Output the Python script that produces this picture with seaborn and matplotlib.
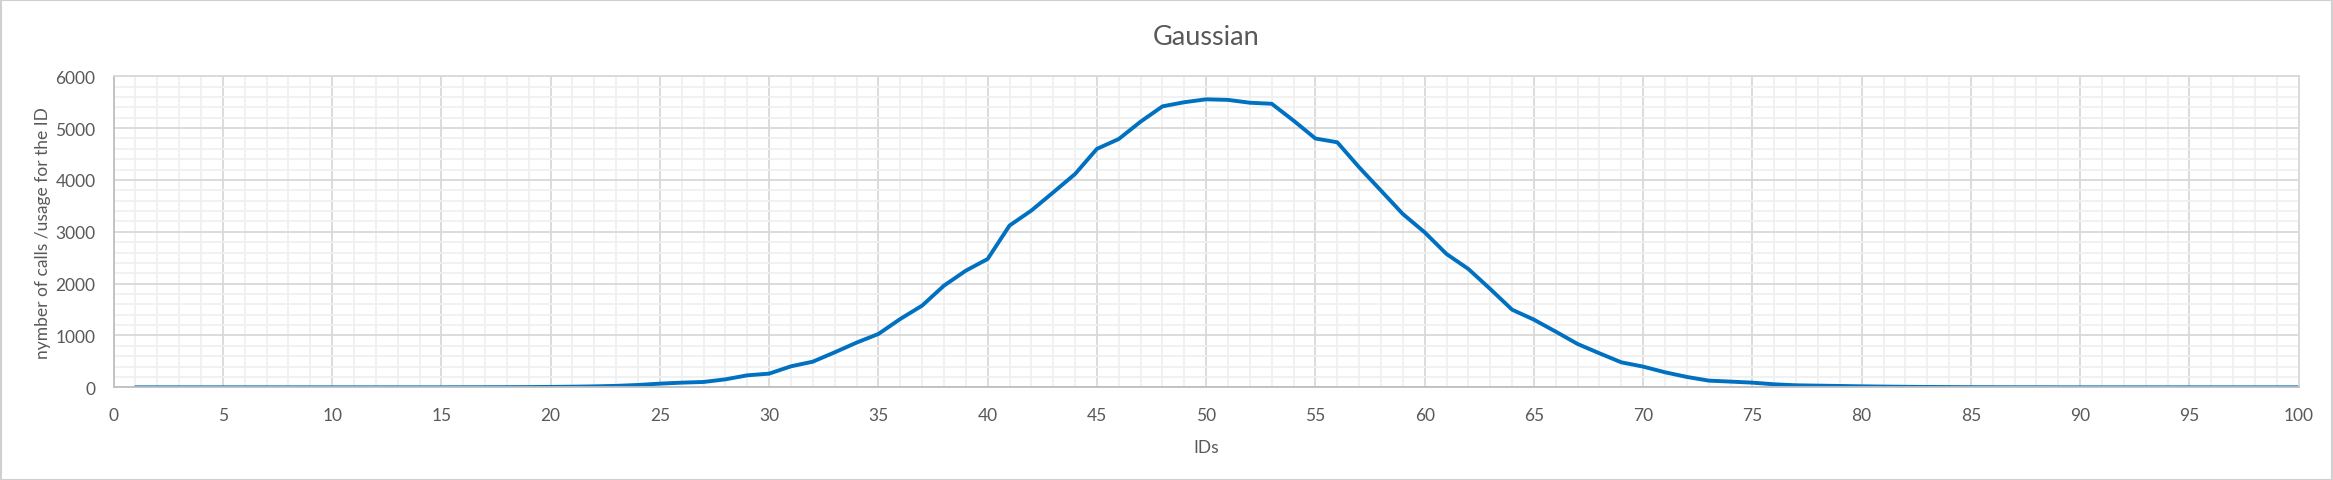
import numpy as np
import pandas as pd
import matplotlib
matplotlib.use('Agg')
import matplotlib.pyplot as plt
from matplotlib.ticker import MultipleLocator
from matplotlib.patches import Rectangle
import seaborn as sns

# usage count per ID
ids = list(range(1, 101))
calls = [
    0, 0, 0, 0, 0, 0, 0, 0, 0, 0,
    0, 0, 0, 0, 0, 1, 2, 3, 5, 8,
    12, 18, 28, 45, 71, 90, 103, 154, 231, 264,
    405, 495, 675, 862, 1029, 1318, 1576, 1961, 2250, 2476,
    3120, 3410, 3760, 4115, 4600, 4790, 5125, 5420, 5500, 5556,
    5545, 5490, 5470, 5145, 4800, 4727, 4245, 3795, 3344, 2990,
    2572, 2283, 1897, 1498, 1305, 1074, 836, 656, 482, 399,
    290, 200, 129, 110, 90, 58, 39, 32, 26, 19,
    14, 10, 7, 5, 3, 2, 1, 1, 0, 0,
    0, 0, 0, 0, 0, 0, 0, 0, 0, 0,
]

df = pd.DataFrame({'IDs': ids, 'calls': calls})

sns.set_style('white')
plt.rcParams['font.family'] = ['Lato', 'DejaVu Sans']

text_col = '#595959'
fig = plt.figure(figsize=(23.33, 4.81), dpi=100)
ax = fig.add_axes([0.0487, 0.1927, 0.9366, 0.6466])

sns.lineplot(data=df, x='IDs', y='calls', ax=ax, color='#0070C0', linewidth=2.8)

ax.set_xlim(0, 100)
ax.set_ylim(0, 6000)
ax.xaxis.set_major_locator(MultipleLocator(5))
ax.xaxis.set_minor_locator(MultipleLocator(1))
ax.yaxis.set_major_locator(MultipleLocator(1000))
ax.yaxis.set_minor_locator(MultipleLocator(200))
ax.grid(which='minor', color='#F0F0F0', linewidth=1.3)
ax.grid(which='major', color='#D9D9D9', linewidth=1.3)
ax.set_axisbelow(True)
for side in ['top', 'right']:
    ax.spines[side].set_color('#D9D9D9')
    ax.spines[side].set_linewidth(1.3)
for side in ['left', 'bottom']:
    ax.spines[side].set_color('#BFBFBF')
    ax.spines[side].set_linewidth(1.3)

ax.tick_params(which='both', length=0, labelsize=12.5, labelcolor=text_col)
ax.tick_params(axis='x', pad=14)
ax.tick_params(axis='y', pad=13)

ax.set_title('Gaussian', fontsize=19.5, color=text_col, pad=23)
ax.set_xlabel('IDs', fontsize=12.5, color=text_col, labelpad=12)
ax.set_ylabel('nymber of calls /usage for the ID', fontsize=12.5, color=text_col, labelpad=3)

# chart border like the spreadsheet frame
fig.patches.append(Rectangle((0.0005, 0.001), 0.999, 0.997, transform=fig.transFigure,
                             fill=False, edgecolor='#D0D0D0', linewidth=1.5))

fig.savefig('out.png', dpi=100)
